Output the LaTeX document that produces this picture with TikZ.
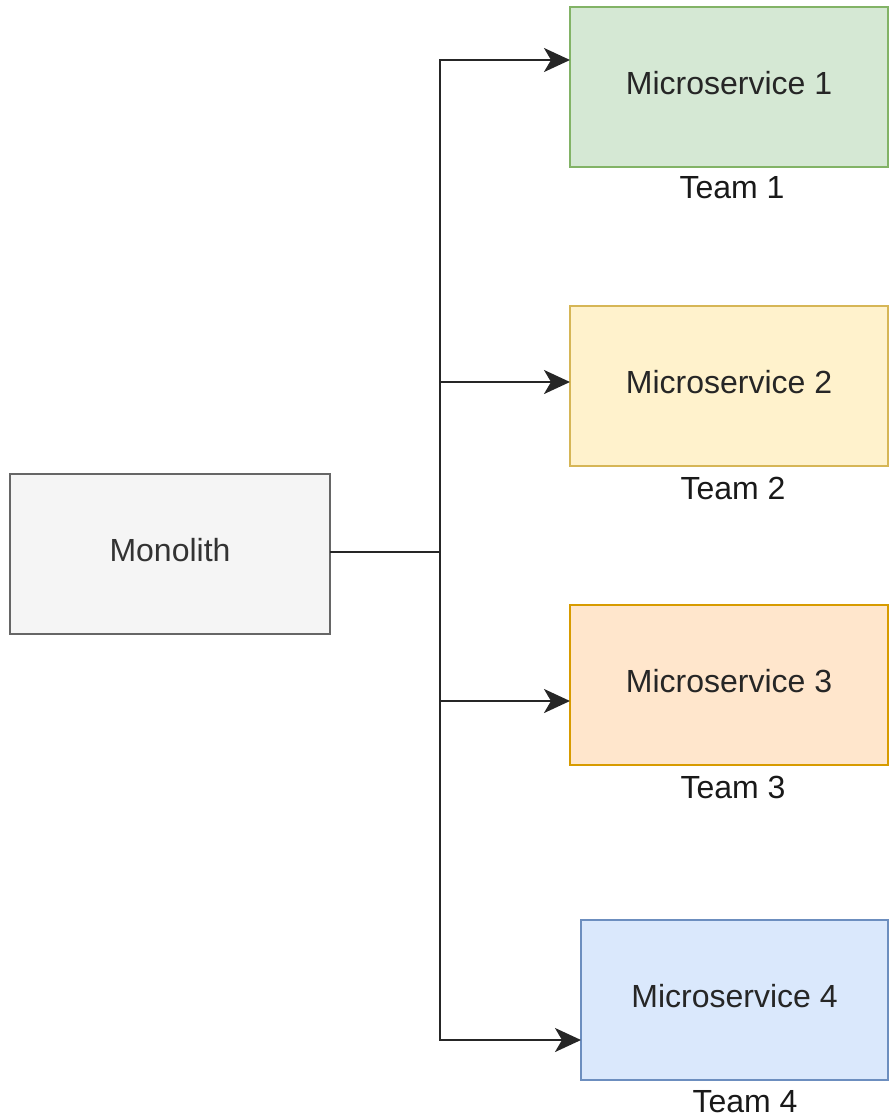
\documentclass[tikz,border=0pt]{standalone}
\usepackage{fontspec}
\setmainfont{Liberation Sans}
\usetikzlibrary{arrows.meta}
\definecolor{grayfill}{HTML}{F5F5F5}
\definecolor{graystroke}{HTML}{666666}
\definecolor{graytext}{HTML}{333333}
\definecolor{greenfill}{HTML}{D5E8D4}
\definecolor{greenstroke}{HTML}{82B366}
\definecolor{yellowfill}{HTML}{FFF2CC}
\definecolor{yellowstroke}{HTML}{D6B656}
\definecolor{orangefill}{HTML}{FFE6CC}
\definecolor{orangestroke}{HTML}{D79B00}
\definecolor{bluefill}{HTML}{DAE8FC}
\definecolor{bluestroke}{HTML}{6C8EBF}
% lift box captions slightly above the geometric centre
\newcommand{\boxtext}[1]{\raisebox{8pt}{#1}}
\tikzset{
  box/.style={draw, line width=2pt, inner sep=0pt, outer sep=0pt, anchor=north west,
    font=\fontsize{32}{36}\selectfont, text=black!85},
  teamlabel/.style={font=\fontsize{32}{36}\selectfont, text=black!90, inner sep=0pt},
  link/.style={line width=2.4pt, draw=black!85},
  arrowlink/.style={link, -{Stealth[length=26pt, width=24pt, inset=7pt]}}
}
\begin{document}
\begin{tikzpicture}[x=1pt, y=-1pt]
  \useasboundingbox (0,0) rectangle (890,1120);

  % service boxes
  \node[box, fill=grayfill, draw=graystroke, text=graytext, minimum width=320pt, minimum height=160pt] (mono) at (10,474) {\boxtext{Monolith}};
  \node[box, fill=greenfill, draw=greenstroke, minimum width=318pt, minimum height=160pt] (ms1) at (570,7) {\boxtext{Microservice 1}};
  \node[box, fill=yellowfill, draw=yellowstroke, minimum width=318pt, minimum height=160pt] (ms2) at (570,306) {\boxtext{Microservice 2}};
  \node[box, fill=orangefill, draw=orangestroke, minimum width=318pt, minimum height=160pt] (ms3) at (570,605) {\boxtext{Microservice 3}};
  \node[box, fill=bluefill, draw=bluestroke, minimum width=307pt, minimum height=160pt] (ms4) at (581,920) {\boxtext{Microservice 4}};

  % team labels
  \node[teamlabel] (t1) at (732,188) {Team 1};
  \node[teamlabel] (t2) at (733,488) {Team 2};
  \node[teamlabel] (t3) at (733,787) {Team 3};
  \node[teamlabel] (t4) at (745,1102) {Team 4};

  % branching connectors
  \coordinate (split) at (440,552);
  \coordinate (b1) at (440,60);
  \coordinate (b2) at (440,382);
  \coordinate (b3) at (440,701);
  \coordinate (b4) at (440,1040);
  \draw[link] (mono.east |- split) -- (split);
  \draw[link, line cap=rect] (b1) -- (b4);
  \draw[arrowlink] (b1) -- (b1 -| ms1.west);
  \draw[arrowlink] (b2) -- (b2 -| ms2.west);
  \draw[arrowlink] (b3) -- (b3 -| ms3.west);
  \draw[arrowlink] (b4) -- (b4 -| ms4.west);
\end{tikzpicture}
\end{document}
